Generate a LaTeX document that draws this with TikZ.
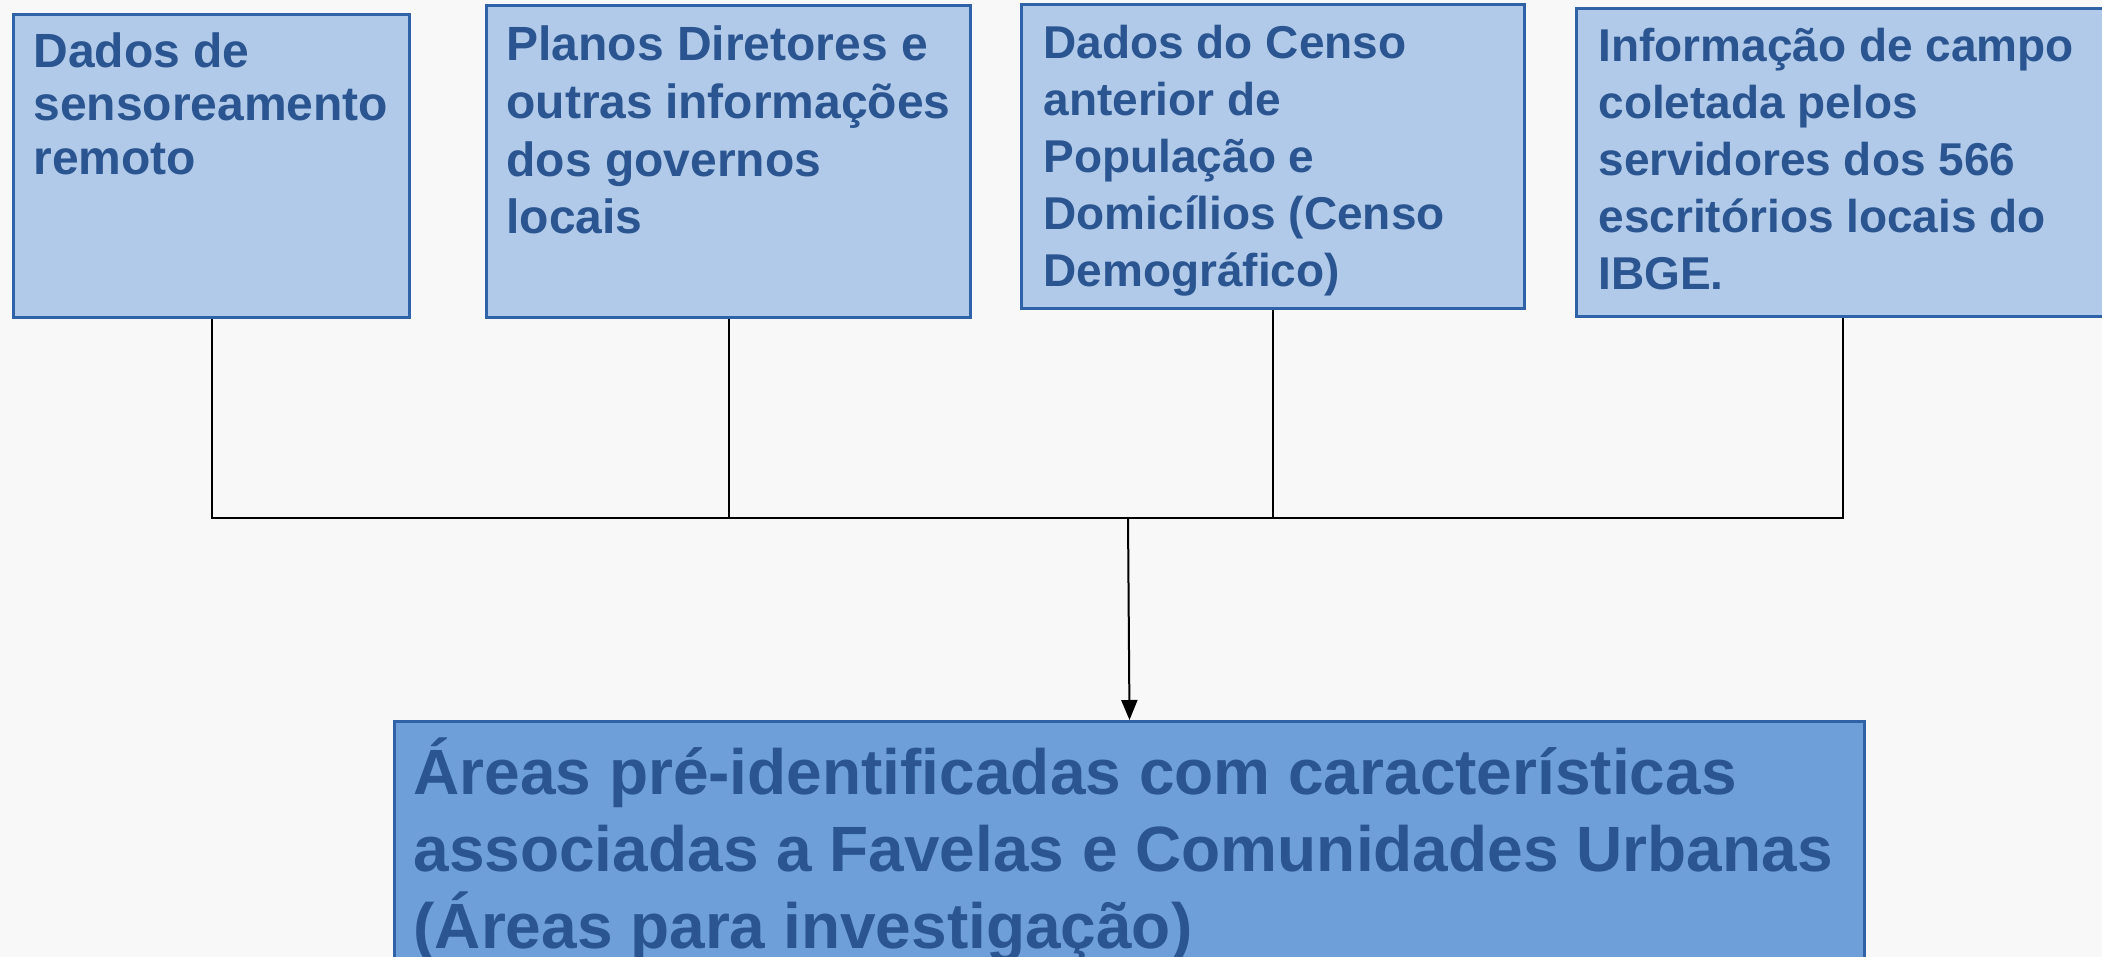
\documentclass[tikz,border=0pt]{standalone}
\usepackage{fontspec}
\setmainfont{Liberation Sans}
\usetikzlibrary{arrows.meta}
\definecolor{fundo}{HTML}{F8F8F8}
\definecolor{caixa}{HTML}{B1CAE9}
\definecolor{caixaforte}{HTML}{6F9FD9}
\definecolor{borda}{HTML}{2F62A6}
\definecolor{texto}{HTML}{2A5590}
\newcommand{\caixatexto}[3]{\parbox[t][#2][t]{#1}{\raggedright #3}}
\tikzset{
	fonte/.style={draw=borda, line width=1.5pt, fill=caixa, anchor=north west, inner xsep=10pt, inner ysep=9pt, text=texto, font=\bfseries\fontsize{24}{26.8}\selectfont},
	fontecenso/.style={fonte, inner xsep=11pt, inner ysep=10.5pt, font=\bfseries\fontsize{23}{28.5}\selectfont},
	destino/.style={fonte, fill=caixaforte, inner xsep=9.5pt, inner ysep=8pt, font=\bfseries\fontsize{32}{38.6}\selectfont},
	ligacao/.style={draw=black, line width=1pt}
}

\begin{document}
\begin{tikzpicture}[x=0.5pt, y=-0.5pt]
		\path[use as bounding box, fill=fundo] (0,0) rectangle (2102,957);
		\clip (0,0) rectangle (2102,957);
		
		\node[fonte] (sensor) at (12,13) {\caixatexto{178pt}{133.5pt}{Dados de\\ sensoreamento\\ remoto}};
		\node[fonte, inner ysep=10.3pt, font=\bfseries\fontsize{24}{28.8}\selectfont] (planos) at (485,4) {\caixatexto{222pt}{135.4pt}{Planos Diretores e\\ outras informações\\ dos governos\\ locais}};
		\node[fontecenso] (censo) at (1020,3) {\caixatexto{229.5pt}{131pt}{Dados do Censo\\ anterior de\\ População e\\ Domicílios (Censo\\ Demográfico)}};
		\node[fontecenso, inner ysep=10pt] (campo) at (1575,7) {\caixatexto{244pt}{134pt}{Informação de campo\\ coletada pelos\\ servidores dos 566\\ escritórios locais do\\ IBGE.}};
		
		\node[destino] (areas) at (393,720) {\caixatexto{716pt}{134pt}{Áreas pré-identificadas com características\\ associadas a Favelas e Comunidades Urbanas\\ (Áreas para investigação)}};
		
		\coordinate (j) at (1128,518);
		\draw[ligacao] (sensor.south) |- (j);
		\draw[ligacao] (planos.south) |- (j);
		\draw[ligacao] (censo.south) |- (j);
		\draw[ligacao] (campo.south) |- (j);
		\draw[ligacao, -{Triangle[length=10pt, width=8pt]}] (j) -- (areas.north);
		
\end{tikzpicture}
\end{document}
